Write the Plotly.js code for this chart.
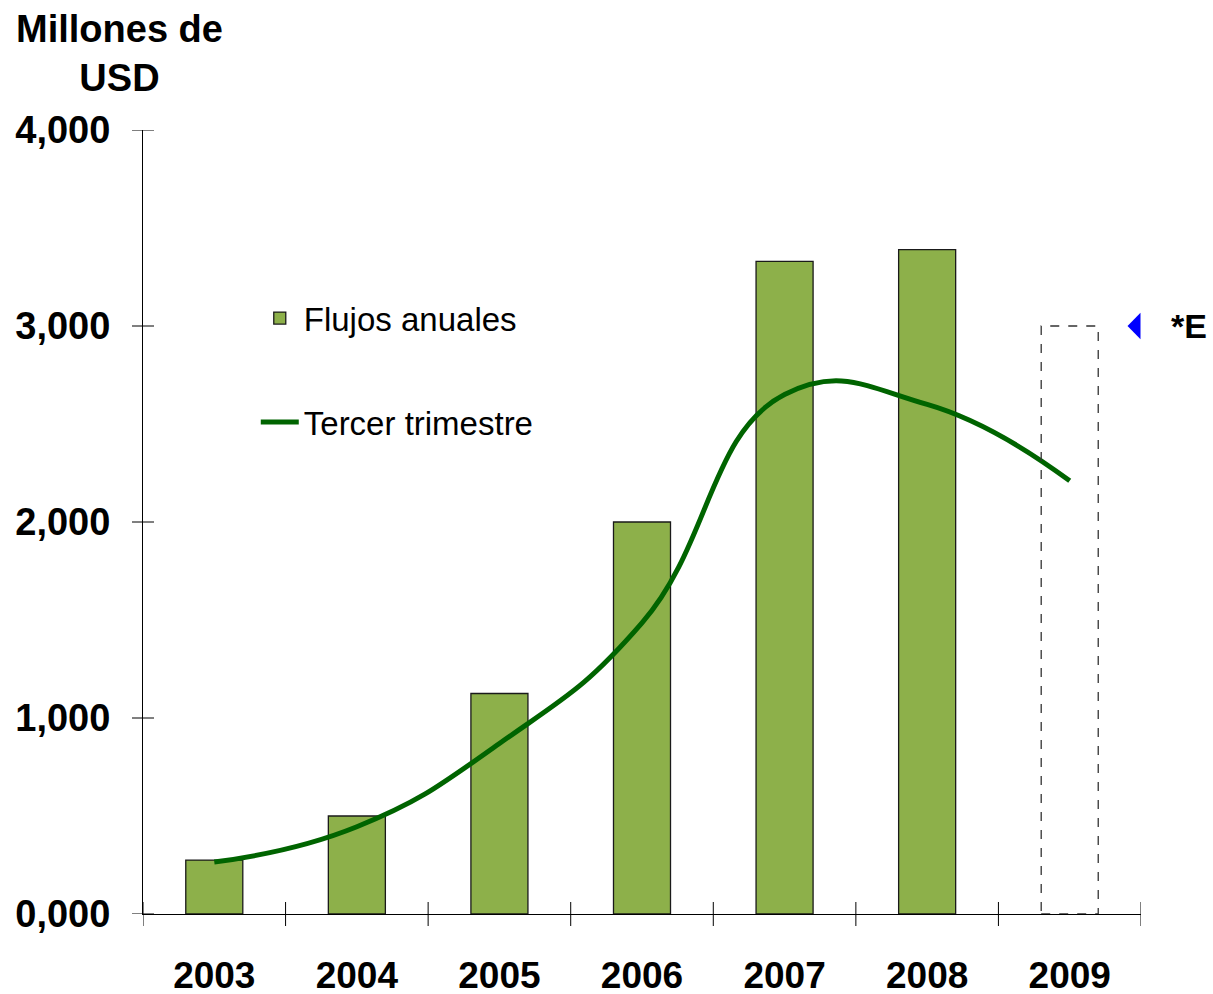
<!DOCTYPE html>
<html>
<head>
<meta charset="utf-8">
<script src="https://cdn.plot.ly/plotly-3.0.1.min.js"></script>
<style>
  html, body { margin: 0; padding: 0; background: #fff; }
  #chart { width: 1213px; height: 994px; }
</style>
</head>
<body>
<div id="chart"></div>
<script>
// Years on the category axis
const years = ['2003', '2004', '2005', '2006', '2007', '2008', '2009'];

// Annual flows (bars), 2009 has no bar, only the estimate box
const flujosAnuales = [275, 500, 1125, 2000, 3330, 3390, null];

// Third quarter (smoothed line)
const tercerTrimestre = [265, 445, 870, 1485, 2650, 2600, 2210];

// Estimated 2009 value (dashed box)
const estimado2009 = 3000;

// Y axis ticks as they are printed
const yTickVals = [0, 1000, 2000, 3000, 4000];
const yTickLabels = ['0,000', '1,000', '2,000', '3,000', '4,000'];

const BOLD = 'Liberation Sans, Arial, sans-serif';
const BAR_W = 0.4;
const W = 1213, H = 994;
const M = { l: 143, r: 72, t: 130, b: 80 };
const plotW = W - M.l - M.r, plotH = H - M.t - M.b;

const barTrace = {
    type: 'bar',
    x: years,
    y: flujosAnuales,
    name: 'Flujos anuales',
    width: BAR_W,
    marker: { color: '#8db04a', line: { color: '#1a1a1a', width: 1.3 } },
    legend: 'legend'
};

const lineTrace = {
    type: 'scatter',
    mode: 'lines',
    x: years,
    y: tercerTrimestre,
    name: 'Tercer trimestre',
    line: { color: '#006400', width: 5, shape: 'spline', smoothing: 1.3 },
    legend: 'legend2'
};

const idx2009 = years.indexOf('2009');

// crossing tick marks (half outside, half inside the plot), as shapes
const boundaries = years.map((_, i) => i - 0.5).concat([years.length - 0.5]);
const tickShapes = [];
boundaries.forEach(b => tickShapes.push({
    type: 'line', xref: 'x', yref: 'paper', x0: b, x1: b,
    y0: -12 / plotH, y1: 12 / plotH, line: { color: '#000', width: 1 }
}));
yTickVals.forEach(v => tickShapes.push({
    type: 'line', xref: 'paper', yref: 'y', x0: -11 / plotW, x1: 11 / plotW,
    y0: v, y1: v, line: { color: '#000', width: 1 }
}));

const layout = {
    width: W,
    height: H,
    margin: M,
    paper_bgcolor: '#fff',
    plot_bgcolor: 'rgba(0,0,0,0)',
    showlegend: true,
    font: { family: BOLD, color: '#000' },
    xaxis: {
        type: 'category',
        range: [-0.5, years.length - 0.5],
        ticks: '',
        showline: true,
        linecolor: '#000',
        linewidth: 1,
        showgrid: false,
        zeroline: false,
        ticklabelstandoff: 29,
        tickfont: { family: BOLD, size: 37, color: '#000', weight: 'bold' }
    },
    yaxis: {
        range: [0, 4000],
        tickmode: 'array',
        tickvals: yTickVals,
        ticktext: yTickLabels,
        ticks: '',
        showline: true,
        linecolor: '#000',
        linewidth: 1,
        showgrid: false,
        zeroline: false,
        ticklabelstandoff: 24,
        tickfont: { family: BOLD, size: 38, color: '#000', weight: 'bold' }
    },
    legend: {
        x: 0.113, y: 0.76, xanchor: 'left', yanchor: 'middle',
        bgcolor: 'rgba(0,0,0,0)',
        font: { family: BOLD, size: 33, color: '#000' },
        itemwidth: 38
    },
    legend2: {
        x: 0.113, y: 0.6276, xanchor: 'left', yanchor: 'middle',
        bgcolor: 'rgba(0,0,0,0)',
        font: { family: BOLD, size: 33, color: '#000' },
        itemwidth: 38
    },
    shapes: tickShapes.concat([
        {
            // dashed estimate box for 2009
            type: 'rect', xref: 'x', yref: 'y',
            x0: idx2009 - BAR_W / 2, x1: idx2009 + BAR_W / 2,
            y0: 0, y1: estimado2009,
            line: { color: '#333', width: 1.3, dash: 'dash' },
            fillcolor: 'rgba(0,0,0,0)'
        },
        {
            // blue pointer next to the estimate
            type: 'path', xref: 'paper', yref: 'y',
            path: 'M 0.9865 ' + estimado2009 + ' L 0.9995 ' + (estimado2009 + 68) + ' L 0.9995 ' + (estimado2009 - 68) + ' Z',
            fillcolor: '#0000ff',
            line: { width: 0 }
        }
    ]),
    annotations: [
        {
            text: 'Millones de<br>USD',
            xref: 'paper', yref: 'paper',
            x: -0.024, y: 1.158, xanchor: 'center', yanchor: 'top',
            showarrow: false,
            font: { family: BOLD, size: 38, color: '#000', weight: 'bold' }
        },
        {
            text: '*E',
            xref: 'paper', yref: 'y',
            x: 1.028, y: estimado2009, xanchor: 'left', yanchor: 'middle',
            showarrow: false,
            font: { family: BOLD, size: 34, color: '#000', weight: 'bold' }
        }
    ]
};

Plotly.newPlot('chart', [barTrace, lineTrace], layout, { displayModeBar: false, staticPlot: true });
</script>
</body>
</html>
